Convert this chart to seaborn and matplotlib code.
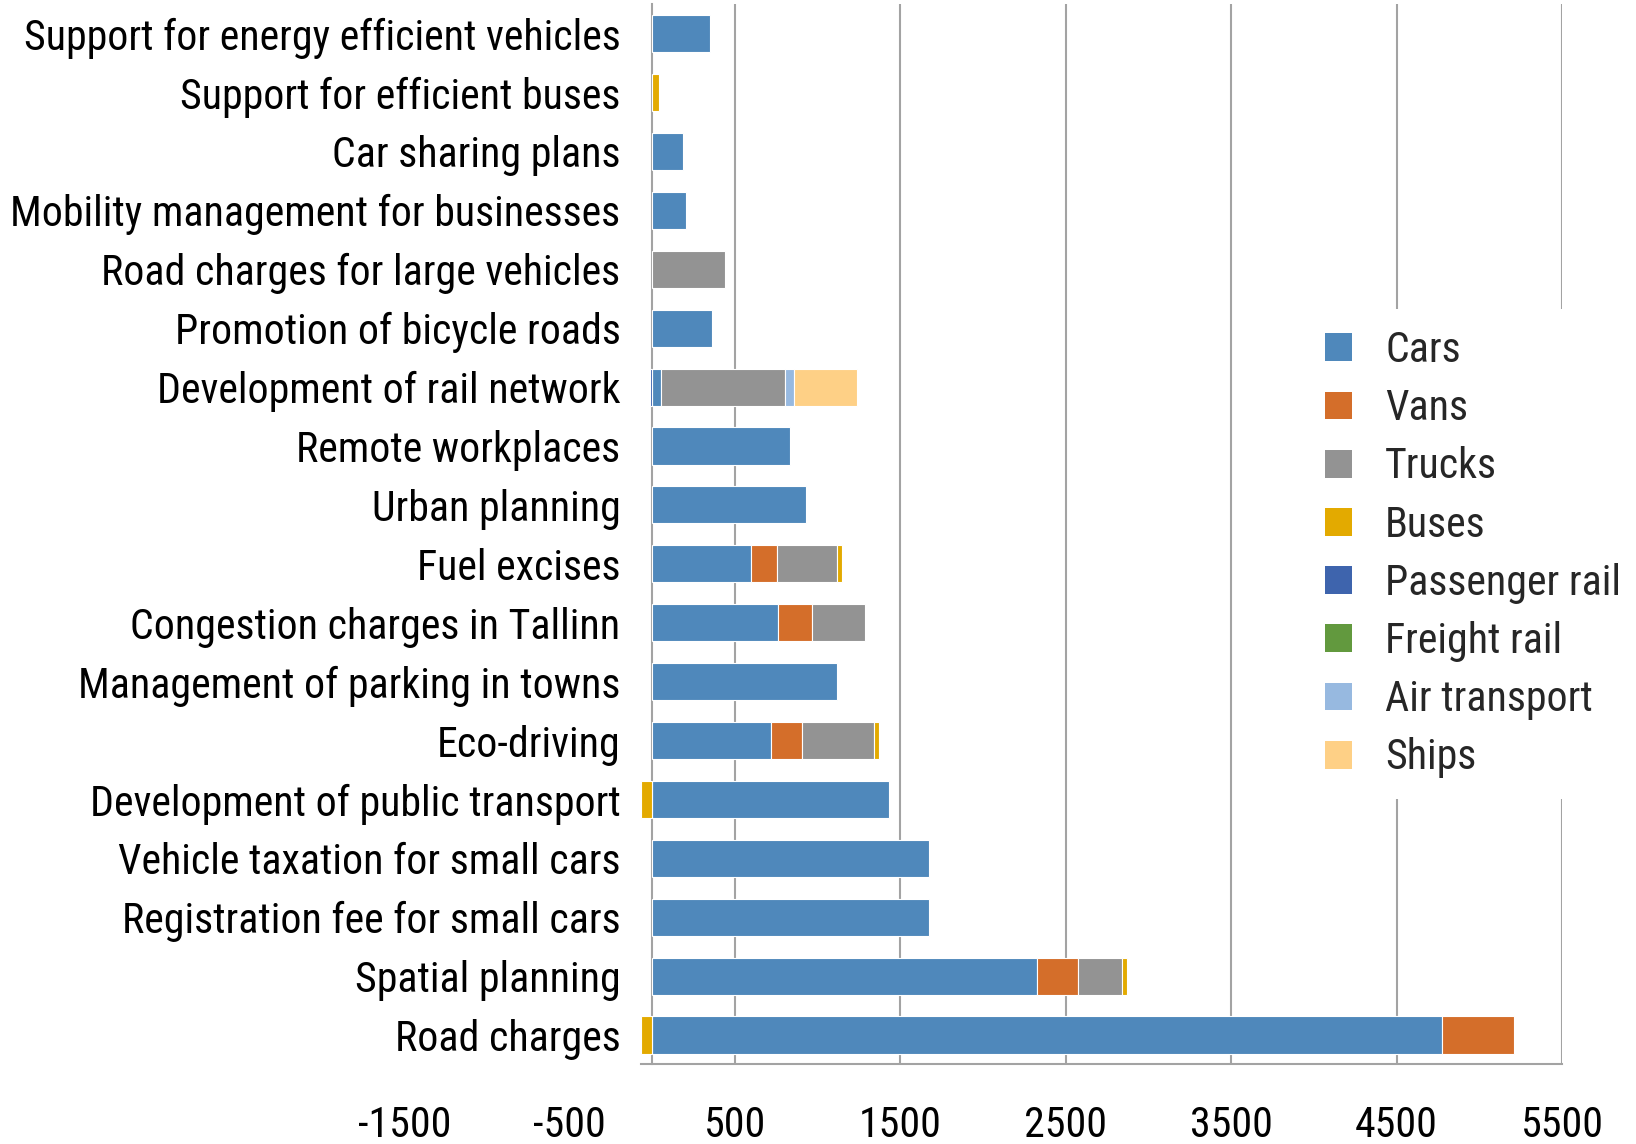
import matplotlib
matplotlib.use('Agg')
import matplotlib.pyplot as plt
from matplotlib.patches import Patch
import seaborn as sns
import numpy as np

# Data
categories = [
    'Support for energy efficient vehicles',
    'Support for efficient buses',
    'Car sharing plans',
    'Mobility management for businesses',
    'Road charges for large vehicles',
    'Promotion of bicycle roads',
    'Development of rail network',
    'Remote workplaces',
    'Urban planning',
    'Fuel excises',
    'Congestion charges in Tallinn',
    'Management of parking in towns',
    'Eco-driving',
    'Development of public transport',
    'Vehicle taxation for small cars',
    'Registration fee for small cars',
    'Spatial planning',
    'Road charges',
]

cars = [348, 0, 188, 201, 0, 358, 55, 835, 930, 597, 762, 1116, 716, 1432, 1672, 1671, 2326, 4774]
vans = [0, 0, 0, 0, 0, 0, 0, 0, 0, 157, 204, 0, 186, 0, 0, 0, 250, 436]
trucks = [0, 0, 0, 0, 441, 0, 748, 0, 0, 365, 320, 0, 440, 0, 0, 0, 266, 0]
buses = [0, 38, 0, 0, 0, 0, 0, 0, 0, 26, 0, 0, 30, -68, 0, 0, 30, -68]
passenger_rail = [0, 0, 0, 0, 0, 0, -14, 0, 0, 0, 0, 0, 0, 0, 0, 0, 0, 0]
freight_rail = [0] * 18
air_transport = [0, 0, 0, 0, 0, 0, 54, 0, 0, 0, 0, 0, 0, 0, 0, 0, 0, 0]
ships = [0, 0, 0, 0, 0, 0, 380, 0, 0, 0, 0, 0, 0, 0, 0, 0, 0, 0]

series_names = ['Cars', 'Vans', 'Trucks', 'Buses', 'Passenger rail', 'Freight rail', 'Air transport', 'Ships']
series_values = [cars, vans, trucks, buses, passenger_rail, freight_rail, air_transport, ships]
series_colors = ['#4F88BB', '#D46E2A', '#939393', '#E3AA00', '#3E64AD', '#62993E', '#97B9E0', '#FED086']

x_ticks = [-1500, -500, 500, 1500, 2500, 3500, 4500, 5500]

sns.set_theme(style='white')
plt.rcParams['font.family'] = ['Roboto Condensed', 'DejaVu Sans']
font_size = 30.2
grid_color = '#A3A3A3'

fig = plt.figure(figsize=(16.36, 11.44), dpi=100)
ax = fig.add_axes([0.2471, 0.0695, 0.7077, 0.9268])

# Stack positive and negative parts separately
pos_left = np.zeros(len(categories))
neg_left = np.zeros(len(categories))
for name, vals, color in zip(series_names, series_values, series_colors):
    vals = np.array(vals, dtype=float)
    mask = vals != 0
    if not mask.any():
        continue
    left = np.where(vals > 0, pos_left, neg_left)
    sns.barplot(x=vals[mask], y=[c for c, m in zip(categories, mask) if m], order=categories,
                orient='y', color=color, saturation=1, width=0.63, errorbar=None,
                left=left[mask], edgecolor='white', linewidth=0.8, zorder=3, ax=ax)
    pos_left += np.where(vals > 0, vals, 0)
    neg_left += np.where(vals < 0, vals, 0)

ax.set_xlim(-1500, 5500)
ax.set_ylim(len(categories) - 0.5, -0.5)
ax.set_xlabel('')
ax.set_ylabel('')
ax.set_xticks(x_ticks)
ax.set_xticklabels([str(t) for t in x_ticks])

# Vertical gridlines only on the positive side
for t in x_ticks:
    if t > 0:
        ax.axvline(t, color=grid_color, lw=1.5, zorder=0)

sns.despine(ax=ax, top=True, right=True)
ax.spines['left'].set_position(('data', 0))
ax.spines['left'].set_color(grid_color)
ax.spines['left'].set_linewidth(1.5)
ax.spines['bottom'].set_color(grid_color)
ax.spines['bottom'].set_linewidth(1.5)
ax.spines['bottom'].set_bounds(neg_left.min(), 5500)

ax.tick_params(axis='y', length=0, pad=23, labelsize=font_size, labelcolor='black')
ax.tick_params(axis='x', length=0, pad=29, labelsize=font_size, labelcolor='black')

handles = [Patch(facecolor=c, edgecolor='none', label=n) for n, c in zip(series_names, series_colors)]
leg = fig.legend(handles=handles, loc='center left', bbox_to_anchor=(0.797, 0.5155),
                 bbox_transform=fig.transFigure, fontsize=font_size, frameon=True,
                 fancybox=False, framealpha=1, facecolor='white', edgecolor='none',
                 handlelength=0.645, handleheight=0.645, handletextpad=0.79,
                 labelspacing=0.41, borderpad=0.5, borderaxespad=0)

fig.savefig('out.png', dpi=100)
